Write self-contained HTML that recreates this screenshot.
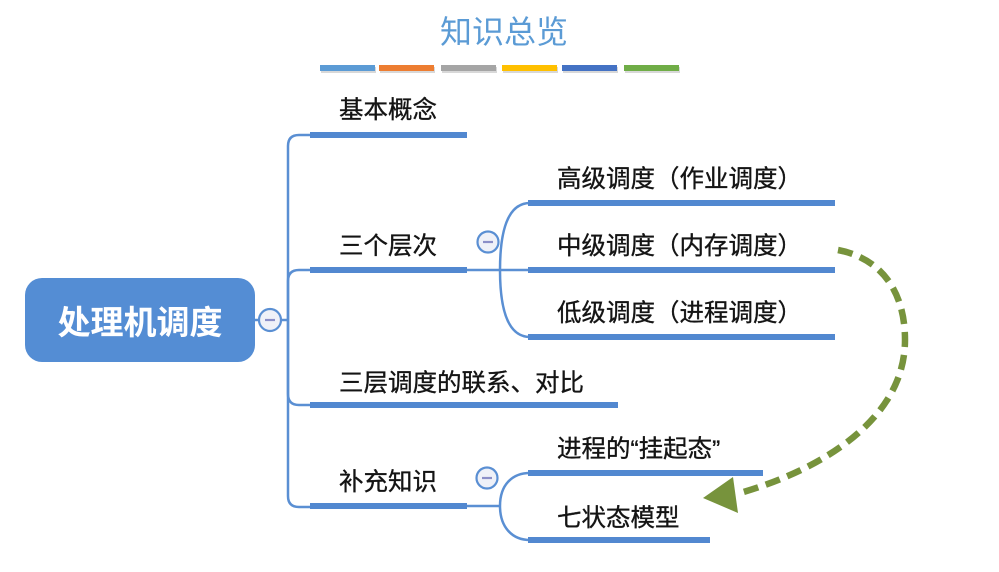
<!DOCTYPE html>
<html>
<head>
<meta charset="utf-8">
<style>
  html,body{margin:0;padding:0;background:#fff;}
  svg{display:block;}
  .t{font-family:"Liberation Sans","Noto Sans CJK SC",sans-serif;font-size:24.5px;fill:#141414;stroke:#141414;stroke-width:0.35px;}
</style>
</head>
<body>
<svg width="999" height="572" viewBox="0 0 999 572" xmlns="http://www.w3.org/2000/svg">
  <!-- Title -->
  <text x="504" y="43" text-anchor="middle" style="font-family:'Liberation Sans','Noto Sans CJK SC',sans-serif;font-size:32px;fill:#5b9bd5;">知识总览</text>
  <!-- color bars -->
  <g>
    <rect x="321" y="67" width="55" height="6" fill="#d8d8d8"/>
    <rect x="380" y="67" width="55" height="6" fill="#d8d8d8"/>
    <rect x="442" y="67" width="55" height="6" fill="#d8d8d8"/>
    <rect x="503" y="67" width="55" height="6" fill="#d8d8d8"/>
    <rect x="563" y="67" width="55" height="6" fill="#d8d8d8"/>
    <rect x="625" y="67" width="55" height="6" fill="#d8d8d8"/>
    <rect x="320" y="65" width="55" height="6" fill="#5b9bd5"/>
    <rect x="379" y="65" width="55" height="6" fill="#ed7d31"/>
    <rect x="441" y="65" width="55" height="6" fill="#a5a5a5"/>
    <rect x="502" y="65" width="55" height="6" fill="#ffc000"/>
    <rect x="562" y="65" width="55" height="6" fill="#4472c4"/>
    <rect x="624" y="65" width="55" height="6" fill="#70ad47"/>
  </g>

  <!-- Root -->
  <rect x="25" y="278" width="230" height="84" rx="17" ry="17" fill="#548dd4"/>
  <text x="140" y="334" text-anchor="middle" style="font-family:'Liberation Sans','Noto Sans CJK SC',sans-serif;font-size:33px;font-weight:bold;fill:#fff;">处理机调度</text>

  <!-- root connectors -->
  <g fill="none" stroke="#5a8fd3" stroke-width="2.5">
    <line x1="255" y1="320" x2="288" y2="320"/>
    <path d="M288,320 L288,146 Q288,135 299,135 L312,135"/>
    <path d="M288,320 L288,281 Q288,270 299,270 L312,270"/>
    <path d="M288,320 L288,394 Q288,405 299,405 L312,405"/>
    <path d="M288,320 L288,496 Q288,507 299,507 L312,507"/>
    <!-- sub bracket 1 -->
    <line x1="465" y1="270" x2="530" y2="270"/>
    <path d="M530,203 C510,203 500,225 500,270 C500,315 510,337 530,337"/>
    <!-- sub bracket 2 -->
    <line x1="465" y1="506" x2="500" y2="506"/>
    <path d="M530,473 C512,473 500,485 500,506 C500,527 512,540 530,540"/>
  </g>

  <!-- collapse circles -->
  <g>
    <circle cx="270" cy="320" r="11" fill="#eff1f8" stroke="#5a8fd3" stroke-width="2.2"/>
    <line x1="265" y1="320" x2="275" y2="320" stroke="#8b8fc8" stroke-width="2.2"/>
    <circle cx="488" cy="242" r="10.5" fill="#eff1f8" stroke="#5a8fd3" stroke-width="2.2"/>
    <line x1="483" y1="242" x2="493" y2="242" stroke="#8b8fc8" stroke-width="2.2"/>
    <circle cx="487" cy="478" r="10.5" fill="#eff1f8" stroke="#5a8fd3" stroke-width="2.2"/>
    <line x1="482" y1="478" x2="492" y2="478" stroke="#8b8fc8" stroke-width="2.2"/>
  </g>

  <!-- bars -->
  <g fill="#5288d0">
    <rect x="310" y="132" width="157" height="6"/>
    <rect x="310" y="267" width="157" height="6"/>
    <rect x="310" y="402" width="308" height="6"/>
    <rect x="310" y="503" width="157" height="6"/>
    <rect x="528" y="200" width="307" height="6"/>
    <rect x="528" y="267" width="307" height="6"/>
    <rect x="528" y="334" width="307" height="6"/>
    <rect x="528" y="470" width="235" height="6"/>
    <rect x="528" y="537" width="182" height="6"/>
  </g>

  <!-- labels -->
  <text class="t" x="339" y="118">基本概念</text>
  <text class="t" x="339" y="254">三个层次</text>
  <text class="t" x="339" y="391">三层调度的联系、对比</text>
  <text class="t" x="339" y="490">补充知识</text>
  <text class="t" x="557" y="187">高级调度（作业调度）</text>
  <text class="t" x="557" y="254">中级调度（内存调度）</text>
  <text class="t" x="557" y="321">低级调度（进程调度）</text>
  <text class="t" x="557" y="457">进程的“挂起态”</text>
  <text class="t" x="557" y="526">七状态模型</text>

  <!-- green dashed arrow -->
  <path d="M838,250 C880,258 905,290 905,340 C905,420 820,470 740,493" fill="none" stroke="#77933c" stroke-width="6.5" stroke-dasharray="15 8"/>
  <polygon points="703,498 733,477 738,513" fill="#77933c"/>
</svg>
</body>
</html>
